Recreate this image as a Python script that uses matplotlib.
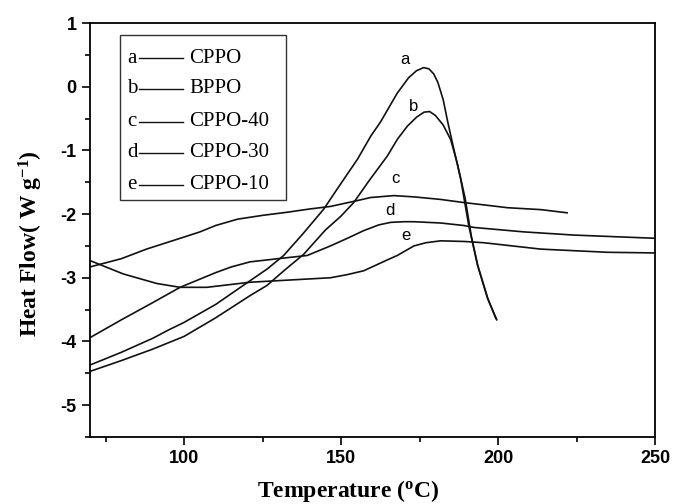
import matplotlib
matplotlib.use('Agg')
import matplotlib.pyplot as plt
from matplotlib.patches import Rectangle
from matplotlib.ticker import MultipleLocator

plt.rcParams['axes.unicode_minus'] = False

# DSC curves
a_x = [70, 80, 90, 95, 100, 110, 120, 126.5, 131.7, 138, 144.5, 148.7, 155.2, 159.4,
       162.6, 167.9, 171.5, 174, 176.3, 178, 179.5, 180.8, 182.5, 184, 186, 188.1, 190.7,
       193.5, 196.7, 199.6]
a_y = [-4.37, -4.17, -3.95, -3.82, -3.7, -3.42, -3.08, -2.86, -2.65, -2.3, -1.92, -1.61,
       -1.14, -0.78, -0.55, -0.10, 0.14, 0.25, 0.30, 0.28, 0.20, 0.07, -0.2, -0.56, -1.0,
       -1.45, -2.19, -2.81, -3.33, -3.66]

b_x = [70, 80, 90, 95, 100, 110, 121, 126.4, 132, 138.1, 145, 150, 154, 159, 164.7, 168,
       171.1, 174, 176.4, 178.2, 180, 182.5, 184.9, 187, 189.5, 191.5, 193.5, 196.7, 199.3]
b_y = [-4.47, -4.3, -4.12, -4.02, -3.92, -3.63, -3.28, -3.12, -2.88, -2.63, -2.25, -2.03,
       -1.82, -1.47, -1.09, -0.82, -0.62, -0.48, -0.40, -0.39, -0.45, -0.6, -0.83, -1.2,
       -1.75, -2.35, -2.8, -3.32, -3.64]

c_x = [70, 80, 88, 100, 105, 110, 117, 125, 133, 140, 146.6, 155, 159.4, 166.8, 173.2,
       181.7, 189.2, 194.5, 203, 213.6, 222]
c_y = [-2.83, -2.7, -2.55, -2.36, -2.28, -2.18, -2.08, -2.02, -1.97, -1.92, -1.88, -1.79,
       -1.74, -1.71, -1.73, -1.77, -1.82, -1.85, -1.9, -1.93, -1.98]

d_x = [70, 80, 90, 98.7, 110, 115, 121, 130, 139.2, 146.6, 152, 157.2, 162, 165.8, 170,
       173.2, 181.7, 189.2, 192.3, 208.3, 224.3, 250]
d_y = [-3.94, -3.66, -3.39, -3.15, -2.92, -2.83, -2.75, -2.7, -2.65, -2.5, -2.38, -2.26,
       -2.17, -2.13, -2.12, -2.12, -2.14, -2.18, -2.21, -2.28, -2.33, -2.38]

e_x = [70, 80.6, 91.3, 98.7, 107.2, 121, 139.2, 146.6, 152, 157.2, 164.7, 167.9, 173.2,
       177, 181.7, 189.2, 195.5, 213.6, 234.9, 250]
e_y = [-2.73, -2.94, -3.09, -3.15, -3.15, -3.07, -3.02, -3.0, -2.95, -2.89, -2.72, -2.65,
       -2.5, -2.45, -2.42, -2.43, -2.45, -2.55, -2.6, -2.61]

letters = ['a', 'b', 'c', 'd', 'e']
names = ['CPPO', 'BPPO', 'CPPO-40', 'CPPO-30', 'CPPO-10']
# where the curve letters sit (data coords)
letter_x = [170.2, 173.2, 167.3, 165.5, 170.5]
letter_y = [0.42, -0.31, -1.44, -1.95, -2.34]

serif = ['Liberation Serif', 'DejaVu Serif']
sans = ['Liberation Sans', 'DejaVu Sans']

fig = plt.figure(figsize=(6.77, 5.04), dpi=100)
ax = fig.add_axes([90 / 677, 67 / 504, 565 / 677, 414 / 504])

for xs, ys in zip([a_x, b_x, c_x, d_x, e_x], [a_y, b_y, c_y, d_y, e_y]):
    ax.plot(xs, ys, color='#111111', lw=1.2)

for l, x, y in zip(letters, letter_x, letter_y):
    ax.text(x, y, l, fontsize=12, family=sans, ha='center', va='center')

ax.set_xlim(70, 250)
ax.set_ylim(-5.5, 1)
ax.set_xticks([100, 150, 200, 250])
ax.xaxis.set_minor_locator(MultipleLocator(25))
ax.yaxis.set_major_locator(MultipleLocator(1))
ax.yaxis.set_minor_locator(MultipleLocator(0.5))
ax.tick_params(which='major', direction='out', length=6, width=1.2, labelsize=13,
               top=False, right=False)
ax.tick_params(which='minor', direction='out', length=3.5, width=1.2,
               top=False, right=False)
for lab in ax.get_xticklabels() + ax.get_yticklabels():
    lab.set_family(sans)
    lab.set_fontweight('bold')
for s in ax.spines.values():
    s.set_linewidth(1.3)

ax.set_xlabel('Temperature ($\\mathregular{^{o}}$C)', fontsize=17, fontweight='bold',
              family=serif)
ax.set_ylabel('Heat Flow( W g$\\mathregular{^{-1}}$)', fontsize=17, fontweight='bold',
              family=serif)
ax.xaxis.set_label_coords(0.458, -0.099)
ax.yaxis.set_label_coords(-0.08, 0.466)

# legend-like key box
ax.add_patch(Rectangle((0.053, 0.572), 0.294, 0.399, transform=ax.transAxes,
                       fill=False, lw=1.0, ec='#333333'))
rows = [0.915, 0.841, 0.761, 0.686, 0.609]
for l, n, ry in zip(letters, names, rows):
    ax.text(0.066, ry, l, transform=ax.transAxes, fontsize=15, family=serif,
            ha='left', va='center')
    ax.plot([0.086, 0.165], [ry, ry], transform=ax.transAxes, color='#111111', lw=1.0)
    ax.text(0.175, ry, n, transform=ax.transAxes, fontsize=15, family=serif,
            ha='left', va='center')

plt.savefig('out.png', dpi=100)
